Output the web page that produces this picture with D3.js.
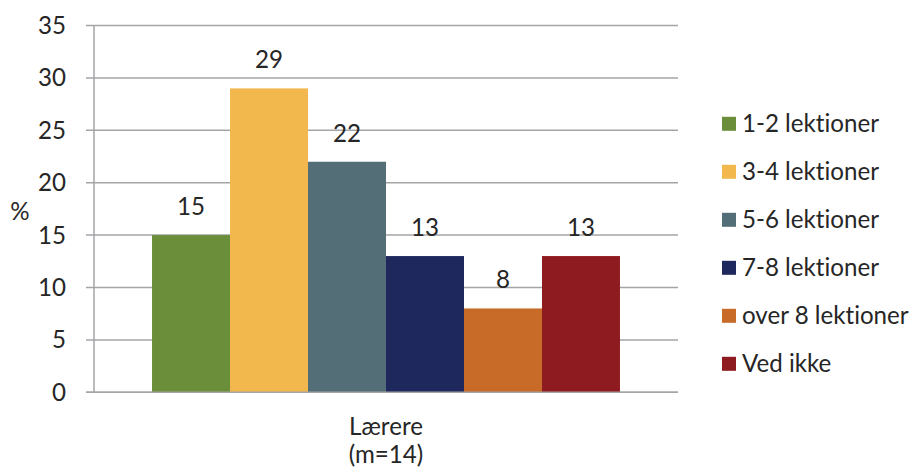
<!DOCTYPE html>
<html><head><meta charset="utf-8">
<script src="https://cdn.jsdelivr.net/npm/d3@7"></script>
<style>body{margin:0;background:#fff}svg text{font-family:Lato,"Open Sans",sans-serif;fill:#262626;font-variant-ligatures:none;font-feature-settings:"liga" 0}</style>
</head><body><svg id="c" width="915" height="471"></svg>
<script>
const categories = ["1-2 lektioner","3-4 lektioner","5-6 lektioner","7-8 lektioner","over 8 lektioner","Ved ikke"];
const values = [15,29,22,13,8,13];
const colors = ["#6A8E3A","#F2B84E","#546E78","#1F285C","#C86A28","#8E1B1F"];
const yTicks = [0,5,10,15,20,25,30,35];
const groupLabel = ["Lærere","(m=14)"];

(function(){
const svg = d3.select("#c");
const pL = 94, pR = 678, pT = 25.5, pB = 392.3;
const y = d3.scaleLinear().domain([0,35]).range([pB, pT]);
const x0 = d3.scaleBand().domain(["Lærere"]).range([pL, pR]).paddingOuter(0.124);
const x1 = d3.scaleBand().domain(categories).range([x0("Lærere"), x0("Lærere") + x0.bandwidth()]);

// font size fitted so that legend text width matches the reference
const probe = svg.append("text").attr("font-size", 100).text(categories[0]);
const fs = Math.min(26, 100 * 137 / probe.node().getComputedTextLength());
probe.remove();

const grid = "#A5A5A8";
svg.append("g").selectAll("line").data(yTicks).join("line")
  .attr("x1", 86).attr("x2", pR).attr("y1", d=>y(d)).attr("y2", d=>y(d))
  .attr("stroke", grid).attr("stroke-width", 1.5);
svg.append("line").attr("x1", pL).attr("x2", pL).attr("y1", pT).attr("y2", pB)
  .attr("stroke", grid).attr("stroke-width", 1.5);
svg.append("g").selectAll("text").data(yTicks).join("text")
  .attr("x", 66).attr("y", d=>y(d)).attr("dy","0.35em").attr("text-anchor","end")
  .attr("font-size", fs).text(d=>d);
svg.append("g").selectAll("rect").data(values).join("rect")
  .attr("x", (d,i)=>x1(categories[i])).attr("width", x1.bandwidth())
  .attr("y", d=>y(d)).attr("height", d=>pB - y(d))
  .attr("fill", (d,i)=>colors[i]);
svg.append("line").attr("x1", 86).attr("x2", pR).attr("y1", pB).attr("y2", pB)
  .attr("stroke", grid).attr("stroke-width", 1.5);
svg.append("g").selectAll("text").data(values).join("text")
  .attr("x", (d,i)=>x1(categories[i]) + x1.bandwidth()/2).attr("y", d=>y(d) - 20)
  .attr("text-anchor","middle").attr("font-size", fs).text(d=>d);
svg.append("text").attr("x", 20).attr("y", 212).attr("dy","0.35em").attr("text-anchor","middle")
  .attr("font-size", fs).text("%");
const cx = x0("Lærere") + x0.bandwidth()/2;
svg.append("text").attr("x", cx).attr("y", 435).attr("text-anchor","middle").attr("font-size",fs).text(groupLabel[0]);
svg.append("text").attr("x", cx).attr("y", 463).attr("text-anchor","middle").attr("font-size",fs).text(groupLabel[1]);
const lg = svg.append("g").selectAll("g").data(categories).join("g")
  .attr("transform", (d,i)=>`translate(722,${123.8 + i*48})`);
lg.append("rect").attr("x",0).attr("y",-7).attr("width",14).attr("height",14).attr("fill",(d,i)=>colors[i]);
lg.append("text").attr("x",20).attr("y",0).attr("dy","0.35em").attr("font-size",fs).text(d=>d);
})();
</script></body></html>
